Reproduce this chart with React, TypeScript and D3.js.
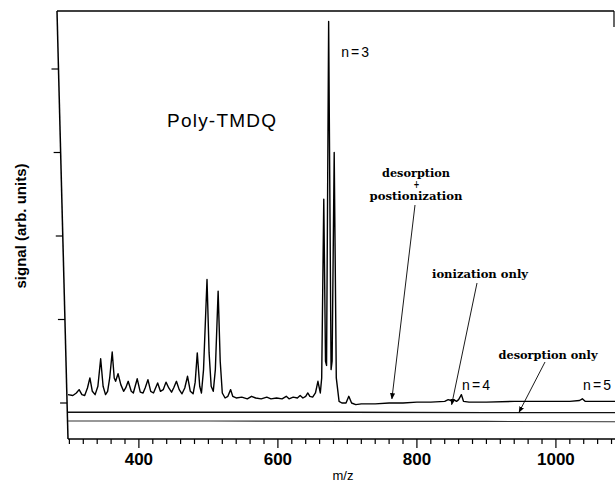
import React, { useRef, useEffect } from "react";
import { select, line, scaleLinear, range } from "d3";

// main spectrum (m/z, signal)
const specMz = [
  298, 305, 310, 314, 318, 322, 326, 329.5, 333, 337, 341, 345, 348.5, 352, 355, 358, 361.6, 364.5,
  366.5, 370, 374, 378, 381, 384.6, 389, 392, 397.6, 402, 406, 409, 413, 417, 421, 424, 427, 431,
  435, 439, 443, 447, 450, 454, 458, 462, 466, 470, 474, 478, 481, 484, 487.5, 490, 493, 498, 501,
  504, 507, 510, 514, 517, 520, 524, 528, 532, 535, 540, 548, 556, 562, 568, 576, 584, 590, 598,
  606, 612, 616, 622, 628, 632, 636, 640, 643, 646, 650, 654, 657.6, 661, 663, 666, 668.5, 670,
  673, 676.5, 678, 681, 684, 688, 692, 698, 702, 706, 712, 720, 740, 760, 780, 800, 820, 840, 845,
  849, 853, 857, 860, 864, 867, 875, 900, 940, 980, 1020, 1034, 1038, 1042, 1060, 1085,
];
const specVals = [
  0.1, 0.09, 0.12, 0.16, 0.1, 0.09, 0.18, 0.3, 0.14, 0.1, 0.2, 0.53, 0.2, 0.1, 0.14, 0.3, 0.61, 0.3,
  0.26, 0.35, 0.22, 0.14, 0.18, 0.26, 0.14, 0.12, 0.29, 0.13, 0.12, 0.18, 0.28, 0.14, 0.12, 0.18, 0.24, 0.14,
  0.16, 0.25, 0.18, 0.13, 0.18, 0.26, 0.16, 0.11, 0.18, 0.32, 0.14, 0.11, 0.25, 0.6, 0.2, 0.12, 0.4, 1.48, 0.6,
  0.2, 0.14, 0.4, 1.34, 0.5, 0.12, 0.06, 0.08, 0.16, 0.08, 0.06, 0.07, 0.05, 0.08, 0.06, 0.05, 0.07, 0.05, 0.06,
  0.05, 0.08, 0.05, 0.07, 0.06, 0.09, 0.06, 0.08, 0.12, 0.08, 0.07, 0.12, 0.26, 0.12, 0.3, 2.44, 0.5, 0.45,
  4.57, 0.4, 0.5, 3.0, 0.3, 0.02, 0.0, 0.0, 0.08, 0.0, -0.02, -0.01, -0.01, 0.0, 0.0, 0.01, 0.01, 0.02, 0.04,
  0.03, 0.04, 0.02, 0.04, 0.1, 0.02, 0.01, 0.01, 0.02, 0.02, 0.02, 0.03, 0.05, 0.02, 0.02, 0.02,
];

// the two flat traces under the spectrum
const flatMz = [298, 500, 700, 900, 1085];
const flatUpperVals = [-0.11, -0.11, -0.11, -0.115, -0.115];
const flatLowerVals = [-0.215, -0.215, -0.22, -0.22, -0.225];

const yTicks = [0, 1, 2, 3, 4];
const xLabels = [400, 600, 800, 1000];

// annotation texts: [text, m/z, signal]
const peakLabels: [string, number, number][] = [
  ["n=3", 691, 4.14],
  ["n=4", 865, 0.16],
  ["n=5", 1039, 0.16],
];

const App = () => {
  const svgRef = useRef<SVGSVGElement>(null);

  useEffect(() => {
    const svg = select(svgRef.current);
    svg.selectAll("*").remove();

    const x = scaleLinear().domain([298, 1085]).range([68, 615]);
    const y = scaleLinear().domain([0, 1]).range([403, 319.5]);
    const top = 11;
    const bottom = 439;
    // the scanned left axis leans a little
    const leftAt = (py: number) => 57 + ((py - top) * 11) / (bottom - top);

    const defs = svg.append("defs");
    defs
      .append("marker")
      .attr("id", "head")
      .attr("viewBox", "0 0 10 10")
      .attr("refX", 9)
      .attr("refY", 5)
      .attr("markerWidth", 7)
      .attr("markerHeight", 7)
      .attr("orient", "auto")
      .append("path")
      .attr("d", "M0,1 L10,5 L0,9 z")
      .attr("fill", "#000");

    // frame
    svg.append("line").attr("x1", leftAt(top)).attr("y1", top).attr("x2", leftAt(bottom)).attr("y2", bottom)
      .attr("stroke", "#000").attr("stroke-width", 1.5);
    svg.append("line").attr("x1", leftAt(top)).attr("y1", top).attr("x2", 614).attr("y2", top)
      .attr("stroke", "#000").attr("stroke-width", 1.5);
    svg.append("line").attr("x1", 614).attr("y1", top).attr("x2", 614).attr("y2", 27)
      .attr("stroke", "#000").attr("stroke-width", 1.2);
    svg.append("line").attr("x1", leftAt(bottom)).attr("y1", bottom).attr("x2", 615).attr("y2", bottom)
      .attr("stroke", "#000").attr("stroke-width", 1.5);

    // y ticks (no labels)
    svg.selectAll(".ytick").data(yTicks).join("line").attr("class", "ytick")
      .attr("x1", (d) => leftAt(y(d)) - 7).attr("x2", (d) => leftAt(y(d)))
      .attr("y1", (d) => y(d)).attr("y2", (d) => y(d))
      .attr("stroke", "#000").attr("stroke-width", 1.2);

    // x ticks: minor every 20, major every 200
    const xt = range(300, 1086, 20);
    svg.selectAll(".xtick").data(xt).join("line").attr("class", "xtick")
      .attr("x1", (d) => x(d)).attr("x2", (d) => x(d))
      .attr("y1", bottom).attr("y2", (d) => bottom + (d % 200 === 0 ? 9 : 5))
      .attr("stroke", "#000").attr("stroke-width", 1.2);

    svg.selectAll(".xlab").data(xLabels).join("text").attr("class", "xlab")
      .attr("x", (d) => x(d)).attr("y", 465).attr("text-anchor", "middle")
      .attr("font-family", "Liberation Sans, Arial, sans-serif").attr("font-weight", "bold")
      .attr("font-size", 17).text((d) => d);

    svg.append("text").attr("x", 343).attr("y", 480).attr("text-anchor", "middle")
      .attr("font-family", "Liberation Sans, Arial, sans-serif").attr("font-size", 13).text("m/z");

    svg.append("text").attr("transform", "translate(26,226) rotate(-90)").attr("text-anchor", "middle")
      .attr("font-family", "Liberation Sans, Arial, sans-serif").attr("font-weight", "bold")
      .attr("font-size", 15).text("signal (arb. units)");

    // traces
    const trace = line<number>().x((d, i) => x(specMz[i])).y((d) => y(d));
    svg.append("path").datum(specVals).attr("d", trace).attr("fill", "none")
      .attr("stroke", "#000").attr("stroke-width", 1.4).attr("stroke-linejoin", "round");

    const flat = line<number>().x((d, i) => x(flatMz[i])).y((d) => y(d));
    svg.append("path").datum(flatUpperVals).attr("d", flat).attr("fill", "none")
      .attr("stroke", "#111").attr("stroke-width", 1.4);
    svg.append("path").datum(flatLowerVals).attr("d", flat).attr("fill", "none")
      .attr("stroke", "#333").attr("stroke-width", 1.1);

    // title
    svg.append("text").attr("x", 167).attr("y", 127)
      .attr("font-family", "Liberation Sans, Arial, sans-serif").attr("font-size", 19)
      .attr("textLength", 109).attr("lengthAdjust", "spacing").text("Poly-TMDQ");

    // peak labels
    svg.selectAll(".plab").data(peakLabels).join("text").attr("class", "plab")
      .attr("x", (d) => x(d[1])).attr("y", (d) => y(d[2]))
      .attr("font-family", "Liberation Sans, Arial, sans-serif").attr("font-size", 14)
      .attr("textLength", 28).attr("lengthAdjust", "spacing").text((d) => d[0]);

    // serif annotations with arrows
    const serif = (t: string, cx: number, cy: number, w: number) =>
      svg.append("text").attr("x", cx).attr("y", cy).attr("text-anchor", "middle")
        .attr("font-family", "DejaVu Serif, serif").attr("font-weight", "bold").attr("font-size", 10.5)
        .attr("textLength", w).attr("lengthAdjust", "spacingAndGlyphs").text(t);
    serif("desorption", 416, 177, 68);
    serif("+", 416.5, 188, 6);
    serif("postionization", 416, 200, 93);
    serif("ionization only", 480, 278, 96);
    serif("desorption only", 548, 359, 99);

    const arrow = (x1: number, y1: number, mz: number, v: number) =>
      svg.append("line").attr("x1", x1).attr("y1", y1).attr("x2", x(mz)).attr("y2", y(v))
        .attr("stroke", "#000").attr("stroke-width", 0.9).attr("marker-end", "url(#head)");
    arrow(415, 205, 764, 0.05);
    arrow(477, 283, 850, -0.02);
    arrow(545, 362, 947, -0.11);
  }, []);

  return (
    <svg
      ref={svgRef}
      width={615}
      height={483}
      style={{ position: "fixed", left: 0, top: 0, background: "#fff" }}
    />
  );
};

export default App;
